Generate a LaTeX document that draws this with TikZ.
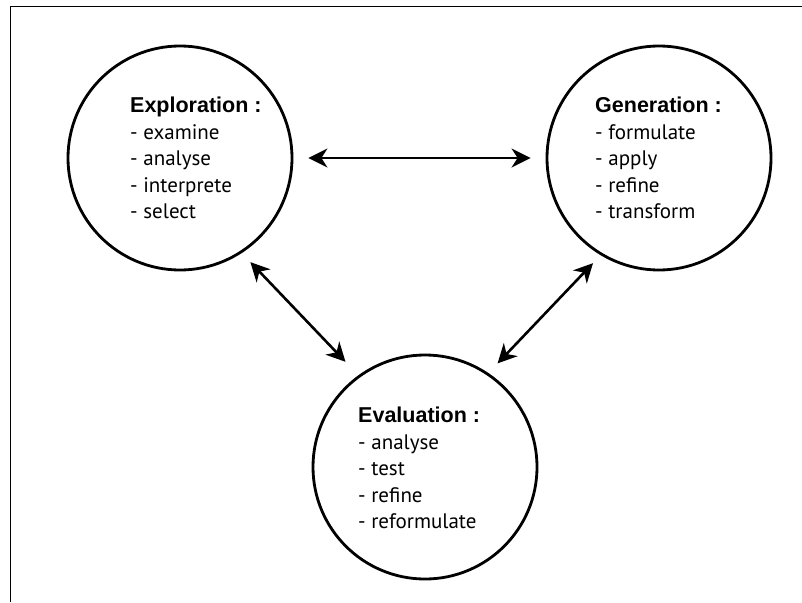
\documentclass[tikz,border=0pt]{standalone}
\usepackage{fontspec}
\setmainfont{PT Sans}
\newfontfamily\headfont{Liberation Sans}
\usetikzlibrary{arrows.meta}
\newcommand{\head}[1]{{\headfont\bfseries\fontsize{21.5}{26.5}\selectfont #1}}
\begin{document}
\begin{tikzpicture}[x=1pt,y=-1pt,
  frame/.style={line width=1.4pt},
  phase/.style={circle,draw,line width=2.8pt,minimum size=224pt,inner sep=0pt},
  label/.style={anchor=north west,inner sep=0pt,align=left,font=\fontsize{21}{26.5}\selectfont},
  arr/.style={line width=2.6pt,{Stealth[length=19pt,width=19pt,inset=6pt]}-{Stealth[length=19pt,width=19pt,inset=6pt]}}]
\useasboundingbox (0,0) rectangle (802,602);
\draw[frame] (10.5,602) -- (10.5,6.5) -- (802,6.5);
\node[phase] (expl) at (180,158) {};
\node[phase] (gen) at (659,158) {};
\node[phase] (eval) at (425,467) {};
\node[label] (explT) at (130,97) {\head{Exploration :}\\- examine\\- analyse\\- interprete\\- select};
\node[label] (genT) at (595,97) {\head{Generation :}\\- formulate\\- apply\\- refine\\- transform};
\node[label] (evalT) at (358,407) {\head{Evaluation :}\\- analyse\\- test\\- refine\\- reformulate};
\draw[arr,shorten <=15pt,shorten >=15pt] (expl.east) -- (gen.west);
\draw[arr,shorten <=12.5pt,shorten >=18.6pt] (expl.-57.5) -- (eval.126.6);
\draw[arr,shorten <=11pt,shorten >=13.3pt] (gen.-121.4) -- (eval.56.1);
\end{tikzpicture}
\end{document}
